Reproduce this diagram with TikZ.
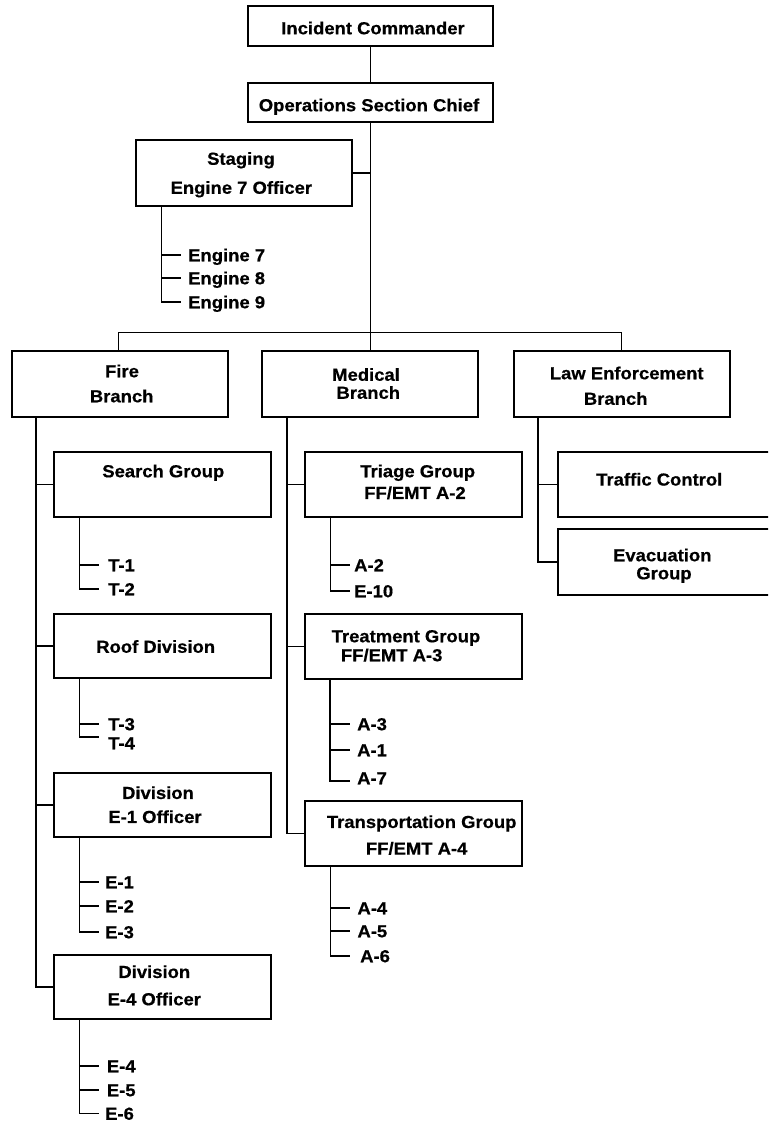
\documentclass[tikz,border=0pt]{standalone}
\usepackage{fontspec}
\newfontfamily\lblfont{Liberation Sans Bold}[FakeStretch=1.06,FakeBold=0.6]
\begin{document}
\begin{tikzpicture}[x=1pt,y=-1pt,
  box/.style={draw, line width=1.5pt, inner sep=0pt, anchor=center},
  boxb/.style={box, line width=2.5pt},
  txt/.style={font=\lblfont\fontsize{17.4}{20}\selectfont, inner sep=0pt, text height=12.5pt, text depth=0pt},
  ln/.style={line width=1.5pt}]
\clip (0,0) rectangle (768,1134);
\fill[white] (0,0) rectangle (768,1134);

% ---- boxes ----
\node[box, minimum width=245pt, minimum height=40pt] (ic) at (370.5,26) {};
\node[box, minimum width=245pt, minimum height=39pt] (osc) at (370.5,102.5) {};
\node[box, minimum width=216pt, minimum height=66pt] (stg) at (244,173) {};
\node[box, minimum width=216pt, minimum height=66pt] (fire) at (120,384) {};
\node[box, minimum width=216pt, minimum height=66pt] (med) at (370,384) {};
\node[boxb, minimum width=216pt, minimum height=66pt] (law) at (622,384) {};
\node[box, minimum width=217pt, minimum height=65pt] (search) at (162.5,484.5) {};
\node[box, minimum width=217pt, minimum height=64pt] (roof) at (162.5,646) {};
\node[box, minimum width=217pt, minimum height=64pt] (div1) at (162.5,805) {};
\node[box, minimum width=217pt, minimum height=64pt] (div4) at (162.5,987) {};
\node[box, minimum width=217pt, minimum height=65pt] (triage) at (413.5,484.5) {};
\node[boxb, minimum width=217pt, minimum height=65pt] (treat) at (413.5,646.5) {};
\node[box, minimum width=217pt, minimum height=65pt] (trans) at (413.5,833.5) {};
\node[box, minimum width=222pt, minimum height=65pt] (traffic) at (669,484.5) {};
\node[box, minimum width=222pt, minimum height=66pt] (evac) at (669,562) {};

% ---- box texts ----
\node[txt] (ict) at (373,28) {Incident Commander};
\node[txt] (osct) at (369,105) {Operations Section Chief};
\node[txt] (stgt1) at (241,158.5) {Staging};
\node[txt] (stgt2) at (241.3,187.5) {Engine 7 Officer};
\node[txt] (firet1) at (122,371) {Fire};
\node[txt] (firet2) at (121.7,396) {Branch};
\node[txt] (medt1) at (366,374.5) {Medical};
\node[txt] (medt2) at (368.3,392.5) {Branch};
\node[txt] (lawt1) at (626.7,373) {Law Enforcement};
\node[txt] (lawt2) at (615.7,398.5) {Branch};
\node[txt] (searcht) at (163.3,471) {Search Group};
\node[txt] (roott) at (155.7,646.5) {Roof Division};
\node[txt] (div1t1) at (158,792.7) {Division};
\node[txt] (div1t2) at (155,816.7) {E-1 Officer};
\node[txt] (div4t1) at (154.3,971.7) {Division};
\node[txt] (div4t2) at (154.3,999) {E-4 Officer};
\node[txt] (triaget1) at (417.7,471) {Triage Group};
\node[txt] (triaget2) at (415,492.7) {FF/EMT A-2};
\node[txt] (treatt1) at (406,636) {Treatment Group};
\node[txt] (treatt2) at (391.7,655) {FF/EMT A-3};
\node[txt] (transt1) at (421.7,821.7) {Transportation Group};
\node[txt] (transt2) at (416.7,848.3) {FF/EMT A-4};
\node[txt] (traffict) at (659.3,479.3) {Traffic Control};
\node[txt] (evact1) at (662.3,555) {Evacuation};
\node[txt] (evact2) at (664,573) {Group};

% ---- leaf texts ----
\node[txt, anchor=west] (e7) at (188,255) {Engine 7};
\node[txt, anchor=west] (e8) at (188,278) {Engine 8};
\node[txt, anchor=west] (e9) at (188,302) {Engine 9};
\node[txt, anchor=west] (t1) at (108,565) {T-1};
\node[txt, anchor=west] (t2) at (108,589) {T-2};
\node[txt, anchor=west] (t3) at (108,724) {T-3};
\node[txt, anchor=west] (t4) at (108,743) {T-4};
\node[txt, anchor=west] (ee1) at (105,882) {E-1};
\node[txt, anchor=west] (ee2) at (105,906) {E-2};
\node[txt, anchor=west] (ee3) at (105,932) {E-3};
\node[txt, anchor=west] (ee4) at (106.7,1066) {E-4};
\node[txt, anchor=west] (ee5) at (106.7,1090) {E-5};
\node[txt, anchor=west] (ee6) at (105,1113.5) {E-6};
\node[txt, anchor=west] (a2) at (354,565) {A-2};
\node[txt, anchor=west] (e10) at (354,591) {E-10};
\node[txt, anchor=west] (a3) at (357,724) {A-3};
\node[txt, anchor=west] (a1) at (357,750) {A-1};
\node[txt, anchor=west] (a7) at (357,778) {A-7};
\node[txt, anchor=west] (a4) at (357.3,908) {A-4};
\node[txt, anchor=west] (a5) at (357.3,931) {A-5};
\node[txt, anchor=west] (a6) at (360,956) {A-6};

% ---- main connectors ----
\coordinate (busL) at (118.3,332.7);
\coordinate (busR) at (621.7,332.7);
\draw[ln] (ic.south) -- (osc.north);
\draw[ln] (osc.south) -- (osc.south |- busL);
\draw[ln] (stg.east) -- (stg.east -| osc.south);
\draw[ln] (fire.north -| busL) -- (busL) -- (busR) -- (law.north -| busR);
\draw[ln] (med.north -| osc.south) -- (osc.south |- busL);

% ---- branch trunks ----
\coordinate (ft) at ([xshift=24.7]fire.south west);
\draw[ln] (ft) |- (div4.west);
\draw[ln] (search.west) -- (search.west -| ft);
\draw[ln] (roof.west) -- (roof.west -| ft);
\draw[ln] (div1.west) -- (div1.west -| ft);

\coordinate (mt) at ([xshift=25.7]med.south west);
\draw[ln] (mt) |- (trans.west);
\draw[ln] (triage.west) -- (triage.west -| mt);
\draw[ln] (treat.west) -- (treat.west -| mt);

\coordinate (lt) at ([xshift=25.3]law.south west);
\draw[ln] (lt) |- (evac.west);
\draw[ln] (traffic.west) -- (traffic.west -| lt);

% ---- leaf connectors ----
\coordinate (sc) at ([xshift=26]stg.south west);
\draw[ln] (sc) |- ([xshift=-7]e9.west);
\draw[ln] (e7.west -| sc) -- ([xshift=-7]e7.west);
\draw[ln] (e8.west -| sc) -- ([xshift=-7]e8.west);

\coordinate (sgc) at ([xshift=26]search.south west);
\draw[ln] (sgc) |- ([xshift=-9]t2.west);
\draw[ln] (t1.west -| sgc) -- ([xshift=-9]t1.west);

\coordinate (rc) at ([xshift=26]roof.south west);
\draw[ln] (rc) |- ([xshift=-9,yshift=6]t4.west);
\draw[ln] (t3.west -| rc) -- ([xshift=-9]t3.west);

\coordinate (d1c) at ([xshift=26]div1.south west);
\draw[ln] (d1c) |- ([xshift=-6]ee3.west);
\draw[ln] (ee1.west -| d1c) -- ([xshift=-6]ee1.west);
\draw[ln] (ee2.west -| d1c) -- ([xshift=-6]ee2.west);

\coordinate (d4c) at ([xshift=26]div4.south west);
\draw[ln] (d4c) |- ([xshift=-6]ee6.west);
\draw[ln] (ee4.west -| d4c) -- ([xshift=-8]ee4.west);
\draw[ln] (ee5.west -| d4c) -- ([xshift=-8]ee5.west);

\coordinate (tgc) at ([xshift=26]triage.south west);
\draw[ln] (tgc) |- ([xshift=-4]e10.west);
\draw[ln] (a2.west -| tgc) -- ([xshift=-4]a2.west);

\coordinate (trc) at ([xshift=26]treat.south west);
\draw[ln] (trc) |- ([xshift=-7,yshift=-3]a7.west);
\draw[ln] (a3.west -| trc) -- ([xshift=-7]a3.west);
\draw[ln] (a1.west -| trc) -- ([xshift=-7]a1.west);

\coordinate (tpc) at ([xshift=26]trans.south west);
\draw[ln] (tpc) |- ([xshift=-10]a6.west);
\draw[ln] (a4.west -| tpc) -- ([xshift=-7]a4.west);
\draw[ln] (a5.west -| tpc) -- ([xshift=-7]a5.west);
\end{tikzpicture}
\end{document}
